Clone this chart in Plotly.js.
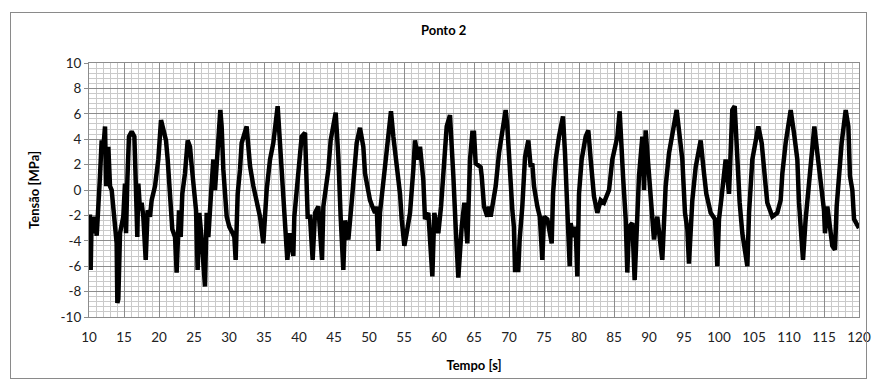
<!DOCTYPE html>
<html>
<head>
<meta charset="utf-8">
<script src="https://cdn.plot.ly/plotly-3.0.1.min.js"></script>
<style>
  html, body { margin: 0; padding: 0; background: #fff; }
  #wrap { position: relative; width: 875px; height: 388px; }
  #chart { position: absolute; left: 0; top: 0; width: 875px; height: 388px; }
  #frame { position: absolute; left: 10px; top: 12px; width: 855px; height: 365px; border: 1px solid #8a8a8a; pointer-events: none; }
</style>
</head>
<body>
<div id="wrap"><div id="chart"></div><div id="frame"></div></div>
<script>
const chartTitle = "Ponto 2";
const xTitle = "Tempo [s]";
const yTitle = "Tensão [MPa]";
const xTicks = [10,15,20,25,30,35,40,45,50,55,60,65,70,75,80,85,90,95,100,105,110,115,120];
const yTicks = [-10,-8,-6,-4,-2,0,2,4,6,8,10];

const time = [
  10.0,10.14,10.24,10.38,10.6,10.86,11.1,11.33,11.57,11.81,12.0,12.29,12.45,12.76,13.0,13.24,
  13.71,13.95,14.05,14.19,14.43,14.9,15.14,15.29,15.48,15.71,16.1,16.48,16.67,16.9,17.05,17.29,
  17.52,17.76,18.1,18.38,18.71,18.95,19.43,19.9,20.29,20.62,21.0,21.24,21.57,21.9,22.29,22.52,
  22.86,23.1,23.33,23.71,24.1,24.43,24.67,24.9,25.29,25.52,25.76,26.1,26.57,26.81,27.05,27.43,
  27.76,28.0,28.48,28.76,28.95,29.19,29.67,30.05,30.52,30.76,30.95,31.24,31.57,31.81,32.52,32.76,
  33.0,33.48,33.95,34.43,34.9,35.14,35.38,35.86,36.33,36.95,37.14,37.52,37.86,38.1,38.33,38.71,
  39.19,39.33,39.9,40.38,40.86,41.1,41.24,41.57,41.95,42.29,42.76,43.29,43.48,44.19,44.52,45.24,
  45.62,45.95,46.33,46.57,47.05,47.52,47.9,48.24,48.71,49.19,49.43,50.14,50.48,50.86,51.1,51.33,
  51.57,52.05,52.52,52.76,53.14,53.48,53.95,54.43,54.67,55.05,55.38,55.86,56.33,56.57,57.05,57.29,
  57.76,58.0,58.48,58.71,59.05,59.33,59.9,60.29,60.62,61.1,61.57,61.81,62.05,62.38,62.76,63.24,
  63.62,64.05,64.43,64.76,65.0,65.24,65.95,66.1,66.43,66.9,67.14,67.38,67.62,68.1,68.57,69.05,
  69.52,69.76,70.0,70.24,70.48,70.7,70.86,71.33,71.52,71.9,72.29,72.76,73.1,73.33,73.57,74.05,
  74.4,74.76,75.0,75.48,76.1,76.29,76.67,77.14,77.71,78.0,78.1,78.33,78.67,78.81,79.14,79.52,
  79.76,80.0,80.38,80.95,81.33,81.67,82.14,82.62,83.1,83.57,84.05,84.29,84.76,85.48,85.81,86.1,
  86.29,86.67,86.9,87.14,87.62,87.95,88.33,88.57,89.05,89.29,89.52,90.0,90.24,90.71,91.19,91.9,
  92.38,92.86,93.95,94.29,94.76,95.14,95.48,95.71,96.19,96.67,97.38,97.86,98.19,98.81,99.43,99.76,
  100.0,100.38,100.95,101.43,101.9,102.24,102.62,102.95,103.33,104.05,104.29,104.76,105.62,106.1,106.67,106.9,
  107.62,108.33,108.81,109.05,109.52,110.24,110.71,111.19,111.43,111.81,112.0,112.38,112.95,113.62,114.05,114.52,
  115.0,115.14,115.48,116.19,116.57,116.81,117.14,117.52,118.1,118.48,118.71,119.05,119.29,119.76,120.0
];
const tension = [
  -2.1,-2.1,-6.3,-2.1,-3.4,-2.1,-3.6,-0.3,1.1,3.9,3.0,5.0,0.3,3.4,0.3,0.0,
  -2.9,-4.2,-8.9,-8.6,-3.4,-2.1,0.5,-3.4,0.8,4.2,4.6,4.2,0.8,-3.7,0.5,-1.6,
  -1.0,-2.1,-5.5,-1.6,-2.1,-0.8,0.3,2.4,5.5,4.7,3.9,2.4,-0.8,-3.1,-3.7,-6.5,
  -1.6,-3.7,-0.3,1.3,3.9,3.4,1.9,0.3,-1.6,-6.3,-1.8,-3.9,-7.6,-1.8,-3.7,-0.3,
  2.4,0.0,4.2,6.3,5.0,1.6,-2.1,-2.9,-3.4,-3.7,-5.5,-0.3,1.6,3.7,5.0,3.4,
  1.9,0.3,-1.0,-2.1,-4.2,-2.1,0.0,2.4,3.7,6.6,5.0,2.4,-0.8,-2.4,-5.5,-3.4,
  -5.2,-2.1,1.6,4.2,4.5,1.1,-2.1,-2.1,-5.5,-1.8,-1.3,-5.5,-1.3,1.6,3.9,6.1,
  2.6,-2.1,-6.3,-2.4,-3.9,-1.0,1.3,3.7,4.9,3.4,1.3,-0.8,-1.3,-1.8,-1.3,-4.8,
  -1.8,0.5,3.4,4.2,6.2,4.2,2.1,-0.3,-2.3,-4.4,-3.4,-1.8,1.6,3.9,2.4,3.4,
  0.8,-2.3,-1.8,-3.4,-6.8,-1.8,-3.4,-1.3,1.8,5.0,5.9,2.4,1.1,-2.9,-6.9,-2.9,
  -1.0,-4.2,2.4,4.5,4.5,2.1,1.8,1.1,-1.3,-2.1,-1.3,-2.1,-1.3,0.3,2.9,4.7,
  6.3,5.0,2.4,0.3,-1.6,-2.9,-6.3,-6.3,-3.9,-1.3,2.6,3.9,1.8,2.1,0.3,-1.3,
  -2.1,-5.5,-2.1,-2.3,-4.2,-0.3,2.4,4.2,5.8,2.9,1.3,-2.3,-6.0,-2.6,-3.7,-2.9,
  -6.8,-0.3,2.4,4.2,4.7,2.4,-0.5,-1.8,-0.8,-1.0,-0.3,0.0,2.4,4.2,6.2,2.6,
  1.1,-2.3,-6.5,-2.9,-2.6,-7.1,-2.3,1.1,4.2,0.0,4.7,1.1,-1.3,-3.9,-2.1,-5.5,
  0.3,2.9,6.3,4.7,2.4,-1.8,-3.1,-5.8,-0.8,1.8,3.9,1.3,-0.3,-1.8,-2.3,-6.0,
  -2.3,-0.5,2.4,-0.3,6.3,6.6,2.4,-1.0,-3.4,-6.0,-1.8,2.4,5.0,3.7,0.3,-1.0,
  -2.1,-1.8,-0.8,1.3,3.7,6.3,4.5,2.4,-1.0,-3.4,-5.5,-2.3,1.3,5.0,2.9,0.3,
  -1.6,-3.4,-1.3,-4.4,-4.7,-1.3,1.3,3.7,6.3,5.0,1.1,0.0,-2.3,-2.9,-3.0
];

const FONT = "Lato, 'Open Sans', sans-serif";

const trace = {
  x: time, y: tension, type: "scatter", mode: "lines",
  line: { color: "#000000", width: 4.5 },
  hoverinfo: "skip", showlegend: false
};

const layout = {
  width: 875, height: 388,
  margin: { l: 89, r: 16, t: 63, b: 71 },
  paper_bgcolor: "rgba(0,0,0,0)", plot_bgcolor: "#ffffff",
  font: { family: FONT, size: 13, color: "#222" },
  title: { text: "<b>" + chartTitle + "</b>", font: { family: FONT, size: 13, color: "#000" },
           xref: "container", x: 0.507, xanchor: "center", yref: "container", y: 1 - 30/388, yanchor: "middle" },
  xaxis: {
    range: [10, 120], tickvals: xTicks, ticktext: xTicks.map(String),
    showgrid: true, gridcolor: "#8c8c8c", gridwidth: 1,
    minor: { dtick: 1, showgrid: true, gridcolor: "#cacaca", gridwidth: 1 },
    zeroline: false, showline: true, linecolor: "#8c8c8c", linewidth: 1, mirror: true,
    ticks: "", ticklabelstandoff: 8,
    tickfont: { family: FONT, size: 13.5, color: "#222" },
    title: { text: "<b>" + xTitle + "</b>", font: { family: FONT, size: 13, color: "#000" }, standoff: 16 }
  },
  yaxis: {
    range: [-10, 10], tickvals: yTicks, ticktext: yTicks.map(String),
    showgrid: true, gridcolor: "#8c8c8c", gridwidth: 1,
    minor: { dtick: 0.4, showgrid: true, gridcolor: "#cacaca", gridwidth: 1 },
    zeroline: false, showline: true, linecolor: "#8c8c8c", linewidth: 1, mirror: true,
    ticks: "outside", ticklen: 4, tickcolor: "#8c8c8c",
    tickfont: { family: FONT, size: 13.5, color: "#222" },
    title: { text: "<b>" + yTitle + "</b>", font: { family: FONT, size: 13, color: "#000" }, standoff: 18 }
  }
};

Plotly.newPlot("chart", [trace], layout, { displayModeBar: false, staticPlot: true });
</script>
</body>
</html>
